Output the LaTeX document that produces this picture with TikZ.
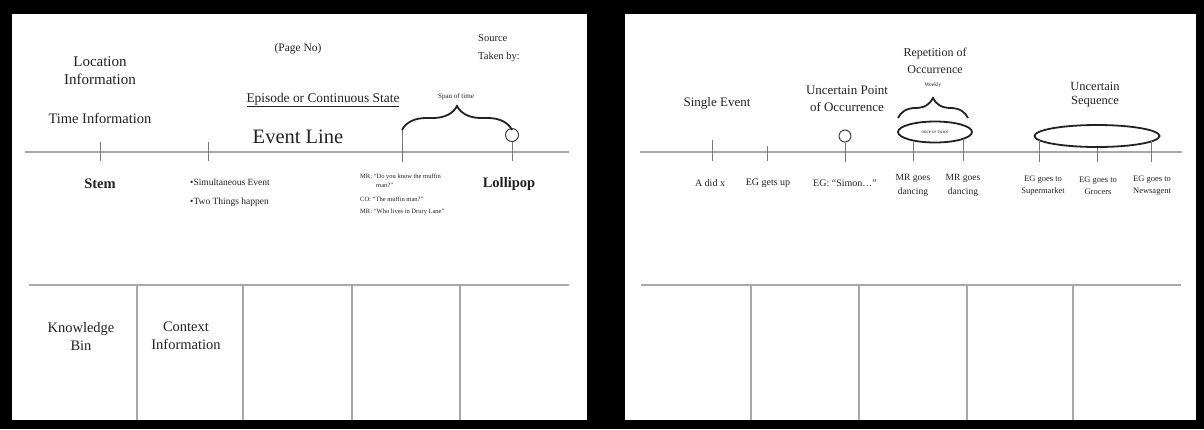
\documentclass[tikz,border=0pt]{standalone}
\usepackage{fontspec}
\setmainfont{Liberation Serif}
\usetikzlibrary{decorations.pathreplacing,shapes.geometric}
\definecolor{ink}{HTML}{222222}
\definecolor{rulegray}{HTML}{A8A8A8}
\definecolor{tickgray}{HTML}{7A7A7A}
\newcommand{\fsz}[2]{\fontsize{#1}{#2}\selectfont}
\tikzset{
  lbl/.style={text=ink, inner sep=0pt, align=center},
  evline/.style={draw=rulegray, line width=1.1pt},
  gridline/.style={draw=rulegray, line width=1.3pt},
  tickmark/.style={draw=tickgray, line width=1pt},
  bracemark/.style={draw=ink, line width=1.8pt, decorate, decoration={brace, amplitude=#1}},
  lolly/.style={circle, draw=ink!85, line width=1pt, minimum size=13pt, inner sep=0pt},
  ring/.style={ellipse, draw=ink, line width=1.8pt, inner sep=0pt}
}
\begin{document}
\begin{tikzpicture}[x=1pt,y=-1pt]
\useasboundingbox (0,0) rectangle (1204,429);
% two sheets on a black ground
\fill[black] (0,0) rectangle (1204,429);
\fill[white] (12,14) rectangle (587,420);
\fill[white] (625,14) rectangle (1196,420);

% ---------------- left sheet: the template ----------------
\node[lbl, font=\fsz{15}{18}] (loc) at (100,71) {Location\\Information};
\node[lbl, font=\fsz{14.5}{17}] (time) at (100,118) {Time Information};
\node[lbl, font=\fsz{11.5}{14}] (page) at (298,49) {(Page No)};
\node[lbl, font=\fsz{10.5}{13}, anchor=west] (src) at (478,38) {Source};
\node[lbl, font=\fsz{10.5}{13}, anchor=west] (taken) at (478,57) {Taken by:};
\node[lbl, font=\fsz{13.4}{16}] (epi) at (323,100) {\underline{Episode or Continuous State}};
\node[lbl, font=\fsz{20.5}{24}] (evl) at (298,137) {Event Line};
\node[lbl, font=\fsz{7}{8}] (span) at (456,97) {Span of time};

% event line and its marks
\coordinate (lineLa) at (25,152);
\coordinate (lineLb) at (569,152);
\draw[evline] (lineLa) -- (lineLb);
\draw[tickmark] (100,142) -- (100,161);
\draw[tickmark] (208,142) -- (208,161);
\draw[tickmark] (402,130) -- (402,162);
\node[lolly] (lolA) at (512,135) {};
\draw[tickmark] (lolA.south) -- (512,161);
\draw[bracemark=24] (402,130) -- (512,130);

\node[lbl, font=\fsz{14.5}{18}\bfseries] (stem) at (100,184) {Stem};
\node[lbl, font=\fsz{14.5}{18}\bfseries] (lolli) at (509,184) {Lollipop};
\node[lbl, font=\fsz{9.5}{19}, align=left, anchor=west] (simul) at (190,192.5)
  {•Simultaneous Event\\•Two Things happen};
\node[lbl, font=\fsz{6.5}{8}, anchor=west] (m1) at (360,177) {MR: “Do you know the muffin};
\node[lbl, font=\fsz{6.5}{8}, anchor=west] (m2) at (376,185) {man?”};
\node[lbl, font=\fsz{6.5}{8}, anchor=west] (m3) at (360,199) {CO: “The muffin man?”};
\node[lbl, font=\fsz{6.5}{8}, anchor=west] (m4) at (360,212) {MR: “Who lives in Drury Lane”};

% bins below
\draw[gridline] (29,285) -- (569,285);
\foreach \xx in {137,243,352,460} \draw[gridline] (\xx,285) -- (\xx,420);
\node[lbl, font=\fsz{14.5}{18}] (kb) at (81,336) {Knowledge\\Bin};
\node[lbl, font=\fsz{14.5}{18}] (ctx) at (186,336) {Context\\Information};

% ---------------- right sheet: worked example ----------------
\coordinate (lineRa) at (640,152);
\coordinate (lineRb) at (1182,152);
\draw[evline] (lineRa) -- (lineRb);

\node[lbl, font=\fsz{13}{16}] (single) at (717,103) {Single Event};
\node[lbl, font=\fsz{13}{17}] (unpt) at (847,99) {Uncertain Point\\of Occurrence};
\node[lbl, font=\fsz{12}{17}] (repl) at (935,61) {Repetition of\\Occurrence};
\node[lbl, font=\fsz{5.5}{7}] (wk) at (933,85) {Weekly};
\node[lbl, font=\fsz{12.5}{14}] (unseq) at (1095,95) {Uncertain\\Sequence};

\draw[tickmark] (712,140) -- (712,161);
\draw[tickmark] (767,146) -- (767,161);
\node[lolly, minimum size=12pt] (lolB) at (845,136) {};
\draw[tickmark] (lolB.south) -- (845,162);

\node[ring, minimum width=74pt, minimum height=21pt, font=\fsz{5}{6}, text=ink] (rep) at (935,132) {once or twice};
\draw[bracemark=20] (898,118) -- (968,118);
\draw[tickmark] (913,141) -- (913,161);
\draw[tickmark] (963,139) -- (963,161);

\node[ring, minimum width=125pt, minimum height=22pt] (seq) at (1097,136) {};
\draw[tickmark] (1039,140) -- (1039,162);
\draw[tickmark] (seq.south) -- (1097,162);
\draw[tickmark] (1151,141) -- (1151,162);

\node[lbl, font=\fsz{10}{12}] (adid) at (710,183) {A did x};
\node[lbl, font=\fsz{10}{12}] (egup) at (768,183) {EG gets up};
\node[lbl, font=\fsz{10}{12}] (simon) at (845,183) {EG: “Simon…”};
\node[lbl, font=\fsz{9.5}{14}] (mr1) at (913,185) {MR goes\\dancing};
\node[lbl, font=\fsz{9.5}{14}] (mr2) at (963,185) {MR goes\\dancing};
\node[lbl, font=\fsz{8.5}{12}] (eg1) at (1043,186) {EG goes to\\Supermarket};
\node[lbl, font=\fsz{8.5}{12}] (eg2) at (1098,186) {EG goes to\\Grocers};
\node[lbl, font=\fsz{8.5}{12}] (eg3) at (1152,186) {EG goes to\\Newsagent};

\draw[gridline] (641,285) -- (1181,285);
\foreach \xx in {751,859,967,1073} \draw[gridline] (\xx,285) -- (\xx,420);
\end{tikzpicture}
\end{document}
